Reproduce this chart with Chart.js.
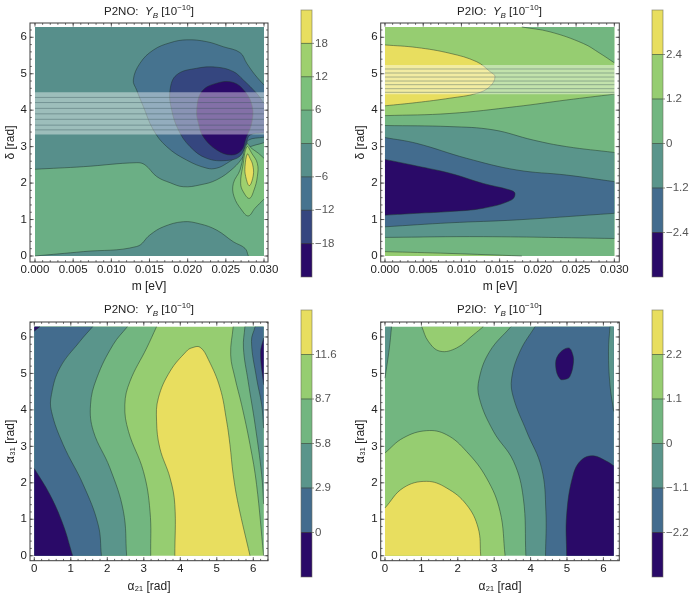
<!DOCTYPE html>
<html>
<head>
<meta charset="utf-8">
<script src="https://cdn.jsdelivr.net/npm/chart.js@4"></script>
<style>
  html, body { margin: 0; background: #fff; }
  body { position: relative; width: 697px; height: 598px; overflow: hidden; font-family: "Liberation Sans", sans-serif; }
  canvas { position: absolute; }
  .ttl { position: absolute; transform: translateX(-50%); font-size: 11.5px; color: #222; white-space: pre; line-height: 13px; }
  .ttl sub, .ttl sup { font-size: 8px; line-height: 0; }
  .ttl i { font-style: italic; }
</style>
</head>
<body>
<script>
// colours of the contour bands, low to high
const colors8 = ["#2a0a68", "#35467f", "#46738f", "#578f8b", "#6baf85", "#7cc07b", "#9ed06e", "#e8de5f"];
const colors6 = ["#2a0a68", "#436c8e", "#5a958b", "#72b680", "#96cd71", "#e8de5f"];

const mTicks = [0, 0.005, 0.01, 0.015, 0.02, 0.025, 0.03];
const radTicks = [0, 1, 2, 3, 4, 5, 6];

// P2NO, m - delta
const a0 = [[0, 0], [0.03, 0], [0.03, 6.283], [0, 6.283]];
const a1 = [[0, 2.38], [0.00633, 2.45], [0.01332, 2.56], [0.01441, 2.5], [0.01594, 2.18], [0.01769, 2.01], [0.01943, 1.9], [0.02162, 1.95], [0.0238, 2.09], [0.02598, 2.41], [0.02729, 2.73], [0.02782, 2.95], [0.03, 3.11], [0.03, 0], [0, 0]];
const a2 = [[0, 0], [0.00633, 0.12], [0.01332, 0.26], [0.01507, 0.58], [0.01681, 0.8], [0.01943, 0.94], [0.02162, 0.88], [0.0238, 0.71], [0.02598, 0.39], [0.02751, 0.21], [0.02795, 0]];
const a3 = [[0.01288, 4.83], [0.01376, 5.29], [0.0155, 5.65], [0.01769, 5.85], [0.01987, 5.93], [0.02249, 5.88], [0.02467, 5.74], [0.02686, 5.58], [0.02773, 5.29], [0.02882, 4.97], [0.03, 4.69], [0.03, 3.26], [0.02795, 3.18], [0.02764, 3.0], [0.02664, 2.77], [0.02511, 2.54], [0.0238, 2.41], [0.02249, 2.41], [0.01987, 2.63], [0.01725, 3.0], [0.0155, 3.46], [0.01419, 4.1], [0.01332, 4.55]];
const a4 = [[0.01769, 4.55], [0.01856, 4.97], [0.02118, 5.15], [0.0238, 5.18], [0.02598, 5.06], [0.02729, 4.83], [0.02904, 4.46], [0.03, 4.19], [0.03, 3.38], [0.02817, 3.32], [0.02764, 3.09], [0.02686, 2.74], [0.02511, 2.62], [0.02249, 2.68], [0.02031, 3.0], [0.01878, 3.46], [0.0179, 4.01]];
const a5 = [[0.02118, 4.01], [0.02184, 4.51], [0.0238, 4.74], [0.02598, 4.76], [0.02751, 4.51], [0.02847, 4.1], [0.02839, 3.64], [0.02764, 3.23], [0.02708, 2.91], [0.02576, 2.77], [0.0238, 2.91], [0.02205, 3.27], [0.0214, 3.64]];
const a6 = [[0.02773, 3.07], [0.02686, 2.36], [0.02598, 1.99], [0.02607, 1.63], [0.02708, 1.26], [0.02795, 1.1], [0.02882, 1.31], [0.03, 1.56], [0.03, 2.68], [0.02926, 2.82], [0.02839, 2.95]];
const a7 = [[0.02777, 3.0], [0.02721, 2.45], [0.02694, 1.99], [0.02729, 1.76], [0.02808, 1.58], [0.02869, 1.81], [0.02913, 2.18], [0.02913, 2.54], [0.02839, 2.82]];
const a8 = [[0.02782, 2.8], [0.02751, 2.45], [0.0276, 2.18], [0.02808, 1.93], [0.0286, 2.22], [0.02852, 2.5], [0.02817, 2.68]];
const aRegions = [a0, a1, a2, a3, a4, a5, a6, a7, a8];
const aBands = [3, 4, 3, 2, 1, 0, 5, 6, 7];
const aStripe = [3.33, 4.49];
const aStripeLines = [3.46, 3.59, 3.75, 3.9, 4.05, 4.21, 4.35];
const aLevels = [-18, -12, -6, 0, 6, 12, 18];

// P2IO, m - delta
const b0 = [[0, 0], [0.03, 0], [0.03, 6.283], [0, 6.283]];
const b1 = [[0, 0.12], [0.0085, 0.07], [0.0179, 0], [0.03, 0], [0.03, 4.44], [0.02376, 4.28], [0.01722, 4.1], [0.0085, 3.91], [0, 3.85]];
const b2 = [[0, 0.51], [0.01286, 0.53], [0.03, 0.48], [0.03, 2.84], [0.02376, 3.0], [0.0194, 3.18], [0.01417, 3.46], [0.0085, 3.55], [0, 3.58]];
const b3 = [[0, 0.8], [0.0085, 0.91], [0.01722, 0.99], [0.03, 1.17], [0.03, 2.04], [0.02376, 2.22], [0.01722, 2.36], [0.01068, 2.68], [0.00414, 3.09], [0, 3.25]];
const b4 = [[0, 2.65], [0.00414, 2.47], [0.0085, 2.27], [0.01286, 1.99], [0.01635, 1.81], [0.017, 1.72], [0.01657, 1.54], [0.01286, 1.31], [0.0085, 1.22], [0.00414, 1.17], [0, 1.12]];
const b5 = [[0.0179, 6.283], [0.02158, 6.15], [0.02594, 5.83], [0.02812, 5.56], [0.03, 5.3], [0.03, 6.283]];
const b6 = [[0, 5.79], [0.00414, 5.72], [0.0085, 5.56], [0.01199, 5.33], [0.01373, 5.06], [0.01439, 4.92], [0.01373, 4.65], [0.01199, 4.46], [0.0085, 4.33], [0.00414, 4.21], [0, 4.12]];
const bRegions = [b0, b1, b2, b3, b4, b5, b6];
const bBands = [4, 3, 2, 1, 0, 3, 5];
const bStripe = [4.44, 5.24];
const bStripeLines = [4.49, 4.59, 4.7, 4.8, 4.91, 5.02, 5.13];
const bLevels = [-2.4, -1.2, 0, 1.2, 2.4];

// P2NO, alpha21 - alpha31
const c0 = [[0, 0], [6.283, 0], [6.283, 6.283], [0, 6.283]];
const c1 = [[3.35, 6.283], [3.08, 5.7], [2.62, 4.78], [2.48, 4.14], [2.58, 3.41], [2.99, 2.31], [3.17, 1.22], [3.19, 0], [0, 0], [0, 6.283]];
const c2 = [[2.55, 6.283], [2.16, 5.79], [1.71, 4.87], [1.54, 4.14], [1.62, 3.41], [2.07, 2.41], [2.44, 1.22], [2.53, 0], [0, 0], [0, 6.283]];
const c3 = [[1.6, 6.283], [1.25, 5.88], [0.7, 5.15], [0.47, 4.42], [0.47, 3.96], [0.79, 3.05], [1.34, 1.95], [1.75, 0.85], [1.84, 0], [0, 0], [0, 6.283]];
const c4 = [[0, 2.39], [0.43, 1.67], [0.79, 0.85], [1.05, 0], [0, 0]];
const c5 = [[0, 6.16], [0.15, 6.283], [0, 6.283]];
const c6 = [[4.31, 5.7], [4.54, 5.72], [4.77, 5.38], [5.09, 4.6], [5.27, 3.69], [5.36, 3.05], [5.45, 2.22], [5.59, 1.4], [5.91, 0], [3.85, 0], [3.85, 1.4], [3.72, 2.13], [3.44, 2.95], [3.35, 3.69], [3.4, 4.33], [3.72, 5.06], [4.17, 5.61]];
const c7 = [[5.45, 6.283], [5.38, 5.51], [5.5, 4.87], [5.68, 4.14], [5.91, 3.05], [6.09, 1.95], [6.283, 0], [6.283, 6.283]];
const c8 = [[5.77, 6.283], [5.73, 5.7], [5.86, 4.78], [6.05, 3.59], [6.23, 2.22], [6.283, 1.42], [6.283, 6.283]];
const c9 = [[6.05, 6.283], [5.95, 5.88], [6.09, 4.87], [6.23, 4.14], [6.283, 3.5], [6.283, 6.283]];
const c10 = [[6.283, 5.97], [6.2, 5.56], [6.283, 4.69]];
const cRegions = [c0, c1, c2, c3, c4, c5, c6, c7, c8, c9, c10];
const cBands = [4, 3, 2, 1, 0, 0, 5, 3, 2, 1, 0];
const cLevels = [0, 2.9, 5.8, 8.7, 11.6];

// P2IO, alpha21 - alpha31
const d0 = [[0, 0], [6.283, 0], [6.283, 6.283], [0, 6.283]];
const d1 = [[0.18, 6.283], [0.12, 5.7], [0, 4.87], [0, 6.283]];
const d2 = [[1.01, 6.283], [1.19, 5.88], [1.51, 5.61], [1.97, 5.7], [2.43, 6.06], [2.7, 6.283]];
const d3 = [[0, 2.82], [0.5, 3.23], [1.14, 3.43], [1.69, 3.32], [2.24, 2.86], [2.79, 2.13], [3.16, 1.22], [3.3, 0], [0, 0]];
const d4 = [[0, 1.31], [0.5, 1.86], [1.14, 2.04], [1.69, 1.86], [2.24, 1.4], [2.56, 0.76], [2.63, 0], [0, 0]];
const d5 = [[3.46, 6.283], [2.88, 5.61], [2.59, 4.87], [2.59, 4.33], [2.98, 3.41], [3.53, 2.59], [3.8, 1.58], [3.87, 0], [6.283, 0], [6.283, 6.283]];
const d6 = [[4.12, 6.283], [3.71, 5.61], [3.48, 4.87], [3.53, 4.33], [3.89, 3.41], [4.3, 2.41], [4.42, 1.22], [4.41, 0], [6.283, 0], [6.283, 6.283]];
const d7 = [[6.18, 6.283], [6.14, 5.61], [6.18, 4.69], [6.283, 3.96], [6.283, 6.283]];
const d8 = [[4.99, 0], [4.99, 1.12], [5.17, 2.22], [5.4, 2.63], [5.72, 2.74], [6.09, 2.59], [6.283, 2.47], [6.283, 0]];
const d9 = [[5.04, 5.7], [5.16, 5.51], [5.17, 5.24], [5.08, 4.92], [4.99, 4.85], [4.81, 4.85], [4.69, 5.19], [4.76, 5.51]];
const dRegions = [d0, d1, d2, d3, d4, d5, d6, d7, d8, d9];
const dBands = [3, 2, 4, 4, 5, 2, 1, 2, 0, 0];
const dLevels = [-2.2, -1.1, 0, 1.1, 2.2];

const lineColor = "rgba(30,50,40,.6)";
const frameColor = "#3c3c3c";

// frame and inward ticks all round, the way Mathematica draws them
const framePlugin = {
  id: "frameTicks",
  afterDraw(chart, args, opts) {
    const { ctx, chartArea: a, scales } = chart;
    ctx.save();
    ctx.strokeStyle = frameColor;
    ctx.lineWidth = 0.8;
    const tickRow = (scale, step, len) => {
      const horiz = scale.axis === "x";
      for (let i = 0; ; i++) {
        const v = i * step;
        if (v > scale.max) break;
        const p = scale.getPixelForValue(v);
        ctx.beginPath();
        if (horiz) {
          ctx.moveTo(p, a.bottom); ctx.lineTo(p, a.bottom - len);
          ctx.moveTo(p, a.top); ctx.lineTo(p, a.top + len);
        } else {
          ctx.moveTo(a.left, p); ctx.lineTo(a.left + len, p);
          ctx.moveTo(a.right, p); ctx.lineTo(a.right - len, p);
        }
        ctx.stroke();
      }
    };
    tickRow(scales.x, opts.xMinor, 1.8);
    tickRow(scales.x, opts.xMinor * 5, 3.6);
    tickRow(scales.y, 0.2, 1.8);
    tickRow(scales.y, 1, 3.6);
    ctx.lineWidth = 1;
    ctx.strokeRect(a.left, a.top, a.right - a.left, a.bottom - a.top);
    ctx.restore();
  }
};

const onEdge = (a, b, xMax) => {
  const yMax = 6.283;
  return (a.x === 0 && b.x === 0) || (a.x === xMax && b.x === xMax) ||
    (a.y === 0 && b.y === 0) || (a.y === yMax && b.y === yMax);
};

// chart.js can't fill a shape that folds back in x, so the regions are painted
// here from the pixel positions the scales gave each point
const regionPlugin = {
  id: "regions",
  beforeDatasetDraw(chart, { index, meta }, opts) {
    const ds = chart.data.datasets[index];
    if (!ds.region) return;
    const { ctx } = chart;
    const pts = meta.data;
    const n = pts.length;
    const edge = i => onEdge(ds.data[i], ds.data[(i + 1) % n], opts.xMax);
    // control points, smoothing only inside a contour run
    const cps = pts.map((p, i) => {
      const prev = edge((i + n - 1) % n) ? p : pts[(i + n - 1) % n];
      const next = edge(i) ? p : pts[(i + 1) % n];
      const dp = Math.hypot(p.x - prev.x, p.y - prev.y);
      const dn = Math.hypot(next.x - p.x, next.y - p.y);
      const s = dp + dn || 1;
      const t = 0.4;
      return {
        inX: p.x - (next.x - prev.x) * t * dp / s, inY: p.y - (next.y - prev.y) * t * dp / s,
        outX: p.x + (next.x - prev.x) * t * dn / s, outY: p.y + (next.y - prev.y) * t * dn / s
      };
    });
    const seg = i => {
      const j = (i + 1) % n;
      if (edge(i)) ctx.lineTo(pts[j].x, pts[j].y);
      else ctx.bezierCurveTo(cps[i].outX, cps[i].outY, cps[j].inX, cps[j].inY, pts[j].x, pts[j].y);
    };
    ctx.save();
    ctx.beginPath();
    ctx.moveTo(pts[0].x, pts[0].y);
    for (let i = 0; i < n; i++) seg(i);
    ctx.closePath();
    ctx.fillStyle = ds.region;
    ctx.fill();
    if (ds.contour) {
      ctx.strokeStyle = lineColor;
      ctx.lineWidth = 0.8;
      for (let i = 0; i < n; i++) {
        if (edge(i)) continue;
        ctx.beginPath();
        ctx.moveTo(pts[i].x, pts[i].y);
        seg(i);
        ctx.stroke();
      }
    }
    ctx.restore();
  }
};

const drawPanel = (p) => {
  const cv = document.createElement("canvas");
  cv.width = 295; cv.height = 298;
  cv.style.left = p.left + "px"; cv.style.top = p.top + "px";
  document.body.appendChild(cv);

  const datasets = [];
  p.regions.forEach((pts, i) => {
    datasets.push({
      data: pts.map(q => ({ x: q[0], y: q[1] })),
      showLine: false,
      pointRadius: 0,
      region: p.colors[p.bands[i]],
      contour: true
    });
  });
  if (p.stripe) {
    const [lo, hi] = p.stripe;
    datasets.push({
      data: [{ x: 0, y: lo }, { x: p.xMax, y: lo }, { x: p.xMax, y: hi }, { x: 0, y: hi }],
      showLine: false, pointRadius: 0,
      region: "rgba(255,255,255,.42)", contour: false
    });
    p.stripeLines.forEach(y => datasets.push({
      data: [{ x: 0, y }, { x: p.xMax, y }],
      showLine: true, pointRadius: 0, borderWidth: 0.7,
      borderColor: "rgba(50,80,85,.55)"
    }));
  }
  // chart.js paints the first dataset last, so the painter's order has to be turned round
  datasets.reverse();

  const [fl, ft, fr, fb] = p.frame;
  new Chart(cv, {
    type: "scatter",
    data: { datasets },
    plugins: [regionPlugin, framePlugin],
    options: {
      responsive: false,
      animation: false,
      events: [],
      layout: { padding: { left: 0, top: ft, right: cv.width - fr, bottom: 0 } },
      plugins: {
        legend: { display: false },
        tooltip: { enabled: false },
        frameTicks: { xMinor: p.xMinor },
        regions: { xMax: p.xMax }
      },
      scales: {
        x: {
          type: "linear", min: p.xRange[0], max: p.xRange[1],
          grid: { display: false, drawTicks: false }, border: { display: false },
          title: { display: true, text: p.xTitle, font: { size: 12, family: "Liberation Sans" }, color: "#222", padding: { top: 4, bottom: p.xTitlePad } },
          ticks: { font: { size: 11.5, family: "Liberation Sans" }, color: "#222", padding: 1, maxRotation: 0, autoSkip: false, callback: p.xFormat },
          afterBuildTicks: s => { s.ticks = p.xTicks.map(value => ({ value })); },
          afterFit: s => { s.height = cv.height - fb; }
        },
        y: {
          min: p.yRange[0], max: p.yRange[1],
          grid: { display: false, drawTicks: false }, border: { display: false },
          title: { display: true, text: p.yTitle, font: { size: 12, family: "Liberation Sans" }, color: "#222", padding: { top: 3, bottom: 0 } },
          ticks: { font: { size: 11.5, family: "Liberation Sans" }, color: "#222", padding: 3, callback: v => v },
          afterBuildTicks: s => { s.ticks = radTicks.map(value => ({ value })); },
          afterFit: s => { s.width = fl; }
        }
      }
    }
  });

  const ttl = document.createElement("div");
  ttl.className = "ttl";
  ttl.style.left = p.titleX + "px";
  ttl.style.top = p.titleY + "px";
  ttl.innerHTML = p.name + ":  <i>Y</i><sub><i>B</i></sub> [10<sup>\u221210</sup>]";
  document.body.appendChild(ttl);
};

const minus = v => (v < 0 ? "\u2212" + (-v) : String(v));

const drawBar = (p) => {
  const cv = document.createElement("canvas");
  cv.width = 52; cv.height = 290;
  cv.style.left = (p.barLeft - 6) + "px"; cv.style.top = p.barTop0 + "px";
  document.body.appendChild(cv);

  const step = p.levels[1] - p.levels[0];
  const edges = [p.levels[0] - step].concat(p.levels, [p.levels[p.levels.length - 1] + step]);
  const datasets = p.colors.map((c, i) => ({
    data: [[edges[i], edges[i + 1]]],
    backgroundColor: c,
    barPercentage: 1,
    categoryPercentage: 1,
    grouped: false
  }));

  new Chart(cv, {
    type: "bar",
    data: { labels: [""], datasets },
    plugins: [{
      id: "barLines",
      afterDraw(chart) {
        const { ctx, chartArea: a, scales } = chart;
        ctx.save();
        ctx.strokeStyle = "rgba(60,70,50,.75)";
        ctx.lineWidth = 0.8;
        p.levels.forEach(v => {
          const y = scales.y.getPixelForValue(v);
          ctx.beginPath(); ctx.moveTo(a.left, y); ctx.lineTo(a.right + 2, y); ctx.stroke();
        });
        ctx.strokeStyle = "rgba(110,110,90,.7)";
        ctx.strokeRect(a.left, a.top, a.right - a.left, a.bottom - a.top);
        ctx.restore();
      }
    }],
    options: {
      responsive: false,
      animation: false,
      events: [],
      layout: { padding: { left: 6, top: 10, right: 0, bottom: 13 } },
      plugins: { legend: { display: false }, tooltip: { enabled: false } },
      scales: {
        x: { display: false },
        y: {
          position: "right",
          min: edges[0], max: edges[edges.length - 1],
          grid: { display: false, drawTicks: false }, border: { display: false },
          ticks: { font: { size: 11.5, family: "Liberation Sans" }, color: "#555", padding: 3, callback: minus },
          afterBuildTicks: s => { s.ticks = p.levels.map(value => ({ value })); },
          afterFit: s => { s.width = 35; }
        }
      }
    }
  });
};

const panels = [
  {
    name: "P2NO", left: 0, top: 0, frame: [30, 23, 268, 262], xRange: [-0.000655, 0.030524], yRange: [-0.165, 6.392],
    xMax: 0.03, xMinor: 0.001, xTicks: mTicks, xFormat: v => v.toFixed(3), xTitle: "m [eV]", yTitle: "\u03b4 [rad]", xTitlePad: 4,
    regions: aRegions, bands: aBands, colors: colors8, stripe: aStripe, stripeLines: aStripeLines,
    levels: aLevels, titleX: 149, titleY: 5, barLeft: 301, barTop0: 0
  },
  {
    name: "P2IO", left: 350, top: 0, frame: [30.7, 23, 269.3, 262], xRange: [-0.00056, 0.03065], yRange: [-0.165, 6.392],
    xMax: 0.03, xMinor: 0.001, xTicks: mTicks, xFormat: v => v.toFixed(3), xTitle: "m [eV]", yTitle: "\u03b4 [rad]", xTitlePad: 4,
    regions: bRegions, bands: bBands, colors: colors6, stripe: bStripe, stripeLines: bStripeLines,
    levels: bLevels, titleX: 499.5, titleY: 5, barLeft: 652, barTop0: 0
  },
  {
    name: "P2NO", left: 0, top: 298, frame: [30, 24, 268, 262.7], xRange: [-0.118, 6.403], yRange: [-0.137, 6.411],
    xMax: 6.283, xMinor: 0.2, xTicks: radTicks, xFormat: v => v, xTitle: "\u03b1\u2082\u2081 [rad]", yTitle: "\u03b1\u2083\u2081 [rad]", xTitlePad: 2,
    regions: cRegions, bands: cBands, colors: colors6,
    levels: cLevels, titleX: 149, titleY: 303, barLeft: 301, barTop0: 300
  },
  {
    name: "P2IO", left: 350, top: 298, frame: [30.7, 24, 269.3, 262.7], xRange: [-0.118, 6.437], yRange: [-0.137, 6.411],
    xMax: 6.283, xMinor: 0.2, xTicks: radTicks, xFormat: v => v, xTitle: "\u03b1\u2082\u2081 [rad]", yTitle: "\u03b1\u2083\u2081 [rad]", xTitlePad: 2,
    regions: dRegions, bands: dBands, colors: colors6,
    levels: dLevels, titleX: 499.5, titleY: 303, barLeft: 652, barTop0: 300
  }
];

panels.forEach(p => { drawPanel(p); drawBar(p); });
</script>
</body>
</html>
